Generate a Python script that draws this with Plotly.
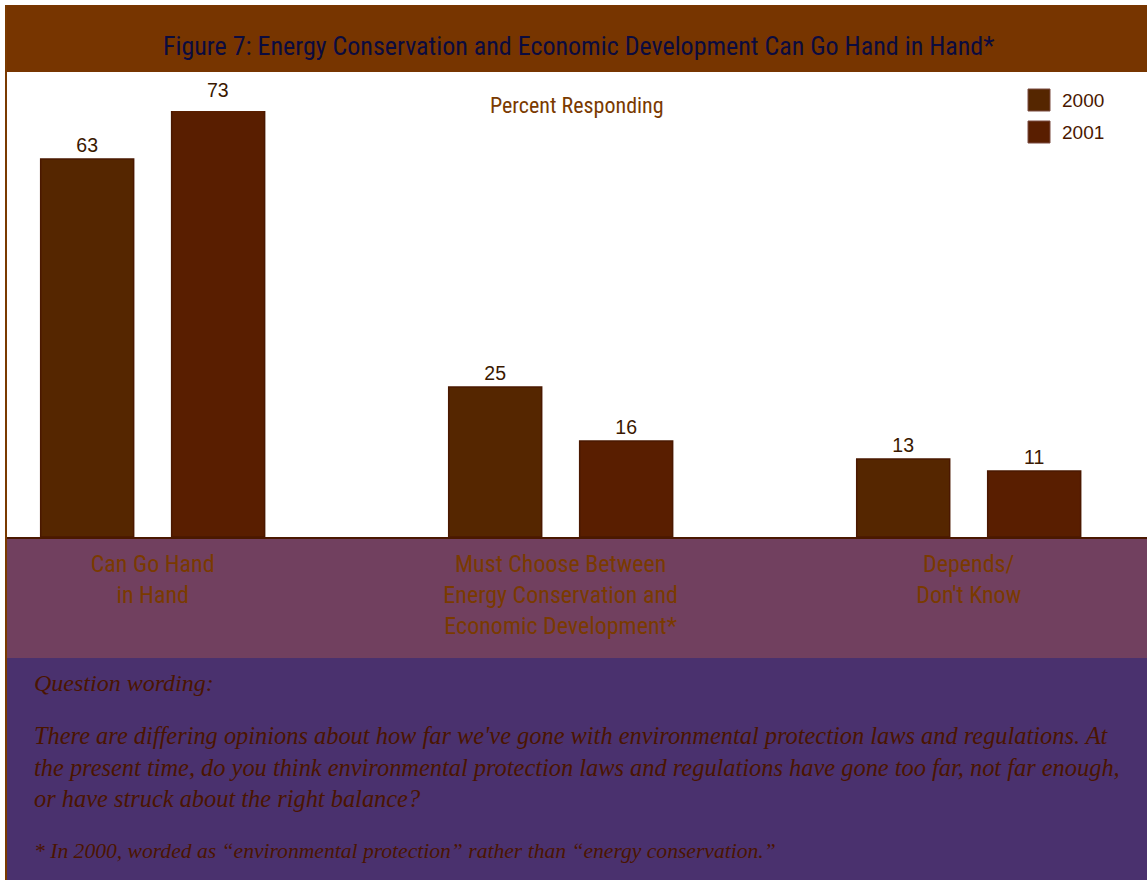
import plotly.graph_objects as go

W, H = 1147, 880

categories = ["Can Go Hand<br>in Hand",
              "Must Choose Between<br>Energy Conservation and<br>Economic Development*",
              "Depends/<br>Don't Know"]
series_names = ["2000", "2001"]
values_2000 = [63, 25, 13]
values_2001 = [73, 16, 11]
y_max = 71  # axis top in the reference; the 73 bar runs past it

title_text = "Figure 7: Energy Conservation and Economic Development Can Go Hand in Hand*"
subtitle_text = "Percent Responding"
question_head = "Question wording:"
question_body = ("There are differing opinions about how far we've gone with environmental protection laws and regulations. At<br>"
                 "the present time, do you think environmental protection laws and regulations have gone too far, not far enough,<br>"
                 "or have struck about the right balance?")
footnote = "* In 2000, worded as \u201cenvironmental protection\u201d rather than \u201cenergy conservation.\u201d"

NARROW = "Liberation Sans Narrow, Roboto Condensed, Arial Narrow, Roboto, sans-serif"
SERIF = "Liberation Serif, DejaVu Serif, serif"
SANS = "Liberation Sans, Arial, sans-serif"

def py(ypx):
    return 1 - ypx / H

def px(xpx):
    return xpx / W

fig = go.Figure()
colors = ["#552600", "#591e00"]
series_vals = [values_2000, values_2001]
for name, vals, col in zip(series_names, series_vals, colors):
    fig.add_trace(go.Bar(
        name=name, x=categories, y=vals,
        marker=dict(color=col, line=dict(color="#4a1800", width=1.5)),
        text=[str(v) if v <= y_max else "" for v in vals], textposition="outside",
        textfont=dict(family=SANS, size=19.5, color="#3a1800"),
        cliponaxis=False, showlegend=False,
    ))

shapes = [
    dict(type="rect", xref="paper", yref="paper", x0=px(5), x1=1, y0=py(72), y1=py(5),
         fillcolor="#773500", line=dict(width=0), layer="below"),
    dict(type="rect", xref="paper", yref="paper", x0=px(7), x1=1, y0=py(658), y1=py(538),
         fillcolor="#71405f", line=dict(width=0), layer="below"),
    dict(type="rect", xref="paper", yref="paper", x0=px(7), x1=1, y0=0, y1=py(658),
         fillcolor="#4a316e", line=dict(width=0), layer="below"),
    dict(type="line", xref="paper", yref="paper", x0=px(6), x1=px(6), y0=0, y1=py(5),
         line=dict(color="#7a3a00", width=2)),
]

annotations = [
    dict(text=title_text, xref="paper", yref="paper", x=px(578), y=py(46), xanchor="center", yanchor="middle",
         showarrow=False, font=dict(family=NARROW, size=26, color="#0b0b3f")),
    dict(text=subtitle_text, xref="paper", yref="paper", x=px(577), y=py(105), xanchor="center", yanchor="middle",
         showarrow=False, font=dict(family=NARROW, size=22, color="#7a3a00")),
    dict(text=question_head, xref="paper", yref="paper", x=px(32), y=py(683), xanchor="left", yanchor="middle",
         showarrow=False, font=dict(family=SERIF, size=24, color="#4a1500", style="italic")),
    dict(text=question_body, xref="paper", yref="paper", x=px(32), y=py(767), xanchor="left", yanchor="middle",
         align="left", showarrow=False, font=dict(family=SERIF, size=24.4, color="#4a1500", style="italic")),
    dict(text=footnote, xref="paper", yref="paper", x=px(32), y=py(851), xanchor="left", yanchor="middle",
         showarrow=False, font=dict(family=SERIF, size=21.6, color="#4a1500", style="italic")),
]

# labels for bars that run past the axis top
bar_offsets = [-65.5, 65.5]
for vals, off in zip(series_vals, bar_offsets):
    for cat, v in zip(categories, vals):
        if v > y_max:
            annotations.append(dict(text=str(v), xref="x", yref="y domain", x=cat, y=v / y_max,
                                    xshift=off, yshift=-4, xanchor="center", yanchor="bottom", showarrow=False,
                                    font=dict(family=SANS, size=19.5, color="#3a1800")))

# legend swatches
for i, (name, col) in enumerate(zip(series_names, colors)):
    top = 89 + 32 * i
    shapes.append(dict(type="rect", xref="paper", yref="paper", x0=px(1028), x1=px(1050),
                       y0=py(top + 22), y1=py(top), fillcolor=col,
                       line=dict(color="#7a4a40", width=1)))
    annotations.append(dict(text=name, xref="paper", yref="paper", x=px(1060), y=py(top + 11),
                            xanchor="left", yanchor="middle", showarrow=False,
                            font=dict(family=SANS, size=19, color="#4a1800")))

fig.update_layout(
    width=W, height=H,
    margin=dict(l=0, r=0, t=0, b=0),
    paper_bgcolor="white", plot_bgcolor="white",
    barmode="group", bargap=0.358, bargroupgap=0.29,
    shapes=shapes, annotations=annotations,
    showlegend=False,
    xaxis=dict(domain=[px(7), 1], range=[-0.357, 2.437], showgrid=False, zeroline=False,
               showline=True, linecolor="#4a1800", linewidth=2,
               ticks="", tickfont=dict(family=NARROW, size=24, color="#7a3a00"),
               ticklabelstandoff=4),
    yaxis=dict(domain=[py(537), py(111)], range=[0, y_max], visible=False, showgrid=False, zeroline=False),
)

fig.write_html("out.html")
